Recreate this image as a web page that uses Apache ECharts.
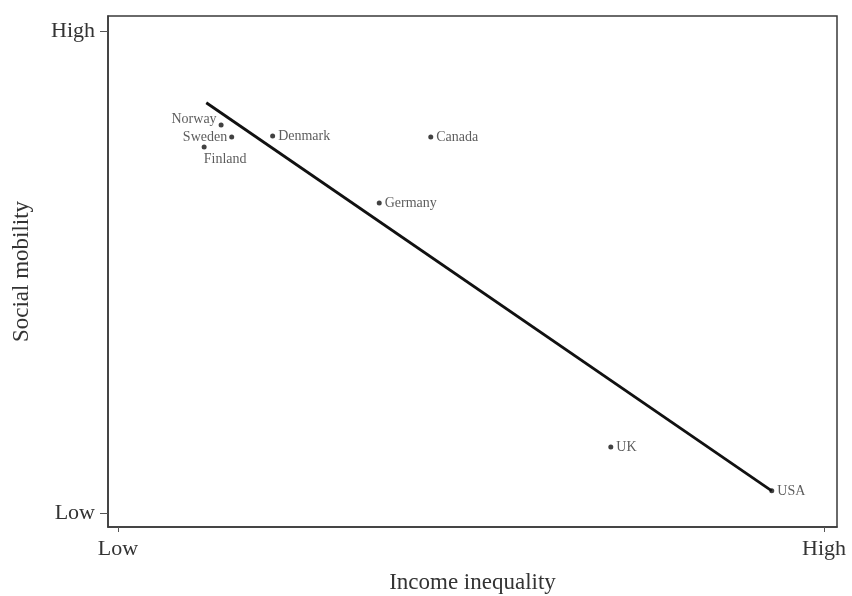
<!DOCTYPE html>
<html><head><meta charset="utf-8">
<script src="https://cdn.jsdelivr.net/npm/echarts@6/dist/echarts.min.js"></script>
<style>html,body{margin:0;padding:0;background:#fff}#c{width:852px;height:596px}</style>
</head><body><div id="c"></div>
<script>
const countries = ['Norway','Sweden','Finland','Denmark','Canada','Germany','UK','USA'];
const inequality = [14.6, 16.1, 12.2, 21.9, 44.3, 37.0, 69.8, 92.6];
const mobility = [80.5, 78.0, 75.9, 78.2, 78.0, 64.3, 13.7, 4.6];
const fitX = [12.5, 92.6];
const fitY = [85.1, 4.6];
const tickValues = [0, 100];
const tickNames = {0: 'Low', 100: 'High'};

const labelPos = {
  Norway: {position: 'left', distance: 2, offset: [0, -6]},
  Sweden: {position: 'left', distance: 2},
  Finland: {position: 'bottom', distance: 3, offset: [21, 0]},
};
const font = '"Liberation Serif", "DejaVu Serif", serif';
const scatterData = countries.map((c, i) => {
  const lp = labelPos[c] || {position: 'right', distance: 3};
  return {value: [inequality[i], mobility[i]], name: c, label: Object.assign({show: true, formatter: c}, lp)};
});

const chart = echarts.init(document.getElementById('c'));
chart.setOption({
  animation: false,
  backgroundColor: '#fff',
  textStyle: {fontFamily: font},
  grid: {left: 108, right: 15, top: 16, bottom: 69, containLabel: false, outerBoundsMode: 'none',
         show: true, borderColor: '#3a3a3a', borderWidth: 1.5, backgroundColor: 'transparent'},
  xAxis: {
    type: 'value', min: -1.42, max: 101.84,
    name: 'Income inequality', nameLocation: 'middle', nameGap: 44,
    nameTextStyle: {fontFamily: font, fontSize: 23, color: '#333'},
    splitLine: {show: false},
    axisLine: {show: true, onZero: false, lineStyle: {color: '#3a3a3a', width: 1.5}},
    axisTick: {show: true, inside: false, length: 5, customValues: tickValues, lineStyle: {color: '#555'}},
    axisLabel: {customValues: tickValues, formatter: v => tickNames[v], fontFamily: font, fontSize: 22, color: '#333', margin: 11}
  },
  yAxis: {
    type: 'value', min: -2.9, max: 103.1,
    name: 'Social mobility', nameLocation: 'middle', nameGap: 75, nameRotate: 90,
    nameTextStyle: {fontFamily: font, fontSize: 23, color: '#333'},
    splitLine: {show: false},
    axisLine: {show: true, onZero: false, lineStyle: {color: '#3a3a3a', width: 1.5}},
    axisTick: {show: true, inside: false, length: 8, customValues: tickValues, lineStyle: {color: '#555'}},
    axisLabel: {customValues: tickValues, formatter: v => tickNames[v], fontFamily: font, fontSize: 22, color: '#333', margin: 13}
  },
  series: [
    {
      type: 'line', data: fitX.map((x, i) => [x, fitY[i]]),
      showSymbol: false, symbol: 'none',
      lineStyle: {color: '#111', width: 2.8}, z: 1
    },
    {
      type: 'scatter', data: scatterData, symbolSize: 5,
      itemStyle: {color: '#111'},
      label: {fontFamily: font, fontSize: 14, color: '#333'}, z: 2
    }
  ]
});
</script></body></html>
